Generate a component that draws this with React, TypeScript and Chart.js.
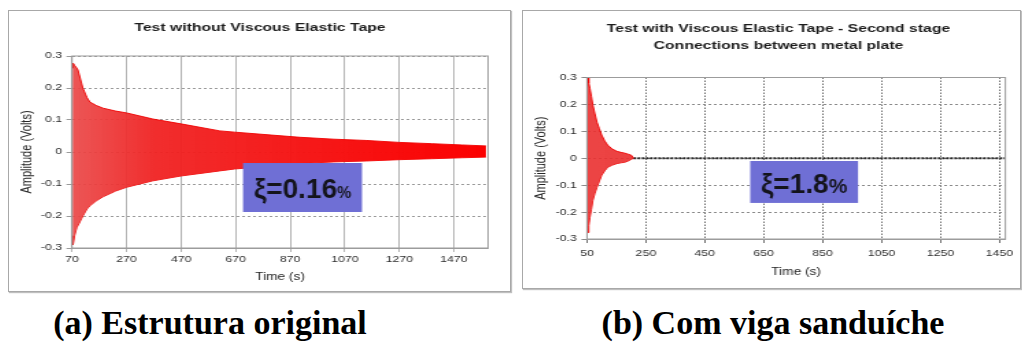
import { useEffect, useRef } from 'react';
import { Chart, registerables } from 'chart.js';
import type { Plugin } from 'chart.js';

Chart.register(...registerables);

// ---- (a) original structure: envelope of the free-decay record ----
const timeA = [72, 74, 80, 88, 92, 110, 125, 136, 160, 184, 230, 271, 367, 469, 612, 667, 800, 905, 1030, 1150, 1270, 1390, 1500, 1588];
const upperA = [0.262, 0.278, 0.27, 0.262, 0.256, 0.2, 0.17, 0.156, 0.145, 0.137, 0.128, 0.122, 0.103, 0.088, 0.066, 0.062, 0.053, 0.046, 0.04, 0.036, 0.03, 0.026, 0.022, 0.019];
const lowerA = [-0.262, -0.29, -0.26, -0.235, -0.23, -0.2, -0.178, -0.168, -0.152, -0.14, -0.122, -0.11, -0.09, -0.075, -0.059, -0.053, -0.044, -0.036, -0.031, -0.028, -0.024, -0.021, -0.018, -0.016];
const xTicksA = [70, 270, 470, 670, 870, 1070, 1270, 1470];

// ---- (b) sandwich beam: envelope of the free-decay record ----
const timeB = [50, 53, 56, 60, 65, 70, 77, 84, 92, 100, 110, 120, 135, 151, 165, 178, 190, 201, 208];
const upperB = [0.27, 0.3, 0.28, 0.26, 0.23, 0.198, 0.165, 0.134, 0.11, 0.086, 0.065, 0.049, 0.035, 0.026, 0.022, 0.019, 0.015, 0.011, 0];
const lowerB = [-0.25, -0.276, -0.25, -0.22, -0.19, -0.157, -0.13, -0.108, -0.085, -0.063, -0.047, -0.034, -0.026, -0.02, -0.017, -0.015, -0.01, -0.004, 0];
const restTimeB = [208, 1470];
const restB = [0, 0];
const xTicksB = [50, 250, 450, 650, 850, 1050, 1250, 1450];

const yTicks = [-0.3, -0.2, -0.1, 0, 0.1, 0.2, 0.3];

const titleA = ['Test without Viscous Elastic Tape'];
const titleB = ['Test with Viscous Elastic Tape - Second stage', 'Connections between metal plate'];
const dampingA = 'ξ=0.16';
const dampingB = 'ξ=1.8';
const captionA = '(a) Estrutura original';
const captionB = '(b) Com viga sanduíche';

const FONT = '"Liberation Sans", Arial, Helvetica, sans-serif';

interface Rect { left: number; top: number; width: number; height: number }

interface PanelSpec {
  frame: Rect;
  box: Rect;
  logicalWidth: number;
  padTop: number;
  padRight: number;
  yAxisWidth: number;
  xAxisHeight: number;
  xMin: number;
  xMax: number;
  xTicks: number[];
  xTickPad: number;
  yTickPad: number;
  yTitlePad: number;
  xTitlePad: number;
  title: string[];
  titleX: number;
  titleY: number[];
  time: number[];
  upper: number[];
  lower: number[];
  restTime?: number[];
  rest?: number[];
  fillStops: [number, string][];
  gridX: { color: string; dash: number[] };
  gridY: { color: string; dash: number[] };
  label: { t0: number; t1: number; a0: number; a1: number; text: string; size: number; unitSize: number };
}

const panelA: PanelSpec = {
  frame: { left: 8, top: 10, width: 503, height: 282 },
  box: { left: 8, top: 10, width: 504, height: 282 },
  logicalWidth: 368,
  padTop: 46,
  padRight: 17.5,
  yAxisWidth: 46.7,
  xAxisHeight: 44,
  xMin: 70,
  xMax: 1595,
  xTicks: xTicksA,
  xTickPad: 2.6,
  yTickPad: 3.3,
  yTitlePad: 7.3,
  xTitlePad: 9,
  title: titleA,
  titleX: 184,
  titleY: [18],
  time: timeA,
  upper: upperA,
  lower: lowerA,
  fillStops: [[0, 'rgba(234,72,72,0.92)'], [0.2, 'rgba(240,34,34,0.95)'], [1, 'rgba(252,0,0,1)']],
  gridX: { color: '#b4b4b4', dash: [] },
  gridY: { color: '#9a9a9a', dash: [2, 2] },
  label: { t0: 697, t1: 1133, a0: -0.0344, a1: -0.1875, text: dampingA, size: 28, unitSize: 16 },
};

const panelB: PanelSpec = {
  frame: { left: 522, top: 10, width: 499, height: 279 },
  box: { left: 522, top: 10, width: 499, height: 279 },
  logicalWidth: 364,
  padTop: 67.5,
  padRight: 8,
  yAxisWidth: 47.4,
  xAxisHeight: 50,
  xMin: 50,
  xMax: 1470,
  xTicks: xTicksB,
  xTickPad: 5.6,
  yTickPad: 3.3,
  yTitlePad: 7.8,
  xTitlePad: 11,
  title: titleB,
  titleX: 187.1,
  titleY: [19, 36],
  time: timeB,
  upper: upperB,
  lower: lowerB,
  restTime: restTimeB,
  rest: restB,
  fillStops: [[0, 'rgba(234,48,48,0.9)'], [1, 'rgba(240,30,30,0.95)']],
  gridX: { color: '#707070', dash: [1.5, 1.5] },
  gridY: { color: '#8a8a8a', dash: [2, 2] },
  label: { t0: 604, t1: 970, a0: -0.0102, a1: -0.166, text: dampingB, size: 28, unitSize: 21 },
};

// Solid frame around the plotting area
const framePlugin: Plugin = {
  id: 'plotFrame',
  afterDatasetsDraw(chart) {
    const { ctx, chartArea: a } = chart;
    ctx.save();
    ctx.strokeStyle = '#9c9c9c';
    ctx.lineWidth = 1;
    ctx.strokeRect(a.left, a.top, a.right - a.left, a.bottom - a.top);
    ctx.restore();
  },
};

function headlinePlugin(spec: PanelSpec): Plugin {
  return {
    id: 'headline',
    afterDraw(chart) {
      const { ctx } = chart;
      ctx.save();
      ctx.font = `bold 11.5px ${FONT}`;
      ctx.fillStyle = '#1c1c1c';
      ctx.textAlign = 'center';
      ctx.textBaseline = 'middle';
      spec.title.forEach((line, i) => ctx.fillText(line, spec.titleX, spec.titleY[i]));
      ctx.restore();
    },
  };
}

// Damping-ratio tag placed in data coordinates; its text is drawn unstretched
function dampingPlugin(spec: PanelSpec): Plugin {
  return {
    id: 'dampingTag',
    afterDatasetsDraw(chart) {
      const { ctx } = chart;
      const xs = chart.scales.x;
      const ys = chart.scales.y;
      const lb = spec.label;
      const L = xs.getPixelForValue(lb.t0);
      const R = xs.getPixelForValue(lb.t1);
      const T = ys.getPixelForValue(lb.a0);
      const B = ys.getPixelForValue(lb.a1);
      const stretch = spec.box.width / spec.logicalWidth;
      ctx.save();
      ctx.fillStyle = '#6f6fd5';
      ctx.fillRect(L, T, R - L, B - T);
      ctx.translate((L + R) / 2, (T + B) / 2 + lb.size * 0.38);
      ctx.scale(1 / stretch, 1);
      const mainFont = `bold ${lb.size}px ${FONT}`;
      const unitFont = `bold ${lb.unitSize}px ${FONT}`;
      ctx.font = mainFont;
      const w1 = ctx.measureText(lb.text).width;
      ctx.font = unitFont;
      const w2 = ctx.measureText('%').width;
      const start = -(w1 + w2) / 2;
      ctx.fillStyle = '#14141c';
      ctx.textAlign = 'left';
      ctx.textBaseline = 'alphabetic';
      ctx.font = mainFont;
      ctx.fillText(lb.text, start, 0);
      ctx.font = unitFont;
      ctx.fillText('%', start + w1, 0);
      ctx.restore();
    },
  };
}

function buildChart(canvas: HTMLCanvasElement, spec: PanelSpec) {
  const pts = (t: number[], v: number[]) => t.map((x, i) => ({ x, y: v[i] }));
  const datasets: any[] = [
    {
      data: pts(spec.time, spec.upper),
      borderColor: 'rgba(238,0,0,0.9)',
      borderWidth: 1,
      pointRadius: 0,
      fill: '+1',
      backgroundColor: (c: any) => {
        const area = c.chart.chartArea;
        if (!area) return spec.fillStops[0][1];
        const g = c.chart.ctx.createLinearGradient(area.left, 0, area.right, 0);
        spec.fillStops.forEach(([o, col]) => g.addColorStop(o, col));
        return g;
      },
    },
    {
      data: pts(spec.time, spec.lower),
      borderColor: 'rgba(238,0,0,0.9)',
      borderWidth: 1,
      pointRadius: 0,
      fill: false,
    },
  ];
  if (spec.restTime && spec.rest) {
    datasets.push({
      data: pts(spec.restTime, spec.rest),
      borderColor: '#262626',
      borderWidth: 2,
      borderDash: [2, 1],
      pointRadius: 0,
      fill: false,
    });
  }

  return new Chart(canvas, {
    type: 'line',
    data: { datasets },
    options: {
      animation: false,
      responsive: true,
      maintainAspectRatio: false,
      events: [],
      layout: { padding: { left: 0, top: spec.padTop, right: spec.padRight, bottom: 0 } },
      plugins: {
        legend: { display: false },
        tooltip: { enabled: false },
        title: { display: false },
      },
      scales: {
        x: {
          type: 'linear',
          min: spec.xMin,
          max: spec.xMax,
          afterBuildTicks: (s: any) => {
            s.ticks = spec.xTicks.map((value) => ({ value }));
          },
          afterFit: (s: any) => {
            s.height = spec.xAxisHeight;
          },
          ticks: {
            autoSkip: false,
            maxRotation: 0,
            padding: spec.xTickPad,
            color: '#2e2e2e',
            font: { family: FONT, size: 9 },
            callback: (v: any) => String(v),
          },
          grid: { color: spec.gridX.color, lineWidth: 1, tickLength: 4 },
          border: { display: true, color: '#9c9c9c', dash: spec.gridX.dash },
          title: {
            display: true,
            text: 'Time (s)',
            color: '#262626',
            font: { family: FONT, size: 10 },
            padding: { top: 0, bottom: spec.xTitlePad },
          },
        },
        y: {
          type: 'linear',
          min: -0.3,
          max: 0.3,
          afterBuildTicks: (s: any) => {
            s.ticks = yTicks.map((value) => ({ value }));
          },
          afterFit: (s: any) => {
            s.width = spec.yAxisWidth;
          },
          ticks: {
            padding: spec.yTickPad,
            color: '#2e2e2e',
            font: { family: FONT, size: 9 },
            callback: (v: any) => (Number(v) === 0 ? '0' : Number(v).toFixed(1)),
          },
          grid: { color: spec.gridY.color, lineWidth: 1, tickLength: 4 },
          border: { display: true, color: '#9c9c9c', dash: spec.gridY.dash },
          title: {
            display: true,
            text: 'Amplitude (Volts)',
            color: '#262626',
            font: { family: FONT, size: 11 },
            padding: { top: spec.yTitlePad, bottom: 0 },
          },
        },
      },
    },
    plugins: [framePlugin, headlinePlugin(spec), dampingPlugin(spec)],
  });
}

function Panel({ spec }: { spec: PanelSpec }) {
  const ref = useRef<HTMLCanvasElement>(null);
  useEffect(() => {
    if (!ref.current) return;
    const chart = buildChart(ref.current, spec);
    return () => chart.destroy();
  }, [spec]);
  const stretch = spec.box.width / spec.logicalWidth;
  return (
    <>
      <div
        style={{
          position: 'absolute',
          left: spec.frame.left,
          top: spec.frame.top,
          width: spec.frame.width,
          height: spec.frame.height,
          boxSizing: 'border-box',
          border: '1px solid #a8a8a8',
          boxShadow: '1px 1px 1px rgba(0,0,0,0.25)',
        }}
      />
      <div
        style={{
          position: 'absolute',
          left: spec.box.left,
          top: spec.box.top,
          width: spec.logicalWidth,
          height: spec.box.height,
          transform: `scaleX(${stretch})`,
          transformOrigin: '0 0',
        }}
      >
        <canvas ref={ref} />
      </div>
    </>
  );
}

const captionStyle: React.CSSProperties = {
  position: 'absolute',
  top: 306,
  fontFamily: '"Liberation Serif", "Times New Roman", serif',
  fontWeight: 'bold',
  fontSize: 34,
  lineHeight: '34px',
  textAlign: 'center',
  color: '#000',
  whiteSpace: 'nowrap',
};

export default function App() {
  return (
    <div style={{ position: 'absolute', left: 0, top: 0, width: 1022, height: 346, background: '#fff', overflow: 'hidden' }}>
      <Panel spec={panelA} />
      <Panel spec={panelB} />
      <div style={{ ...captionStyle, left: 0, width: 420 }}>{captionA}</div>
      <div style={{ ...captionStyle, left: 546, width: 454 }}>{captionB}</div>
    </div>
  );
}
